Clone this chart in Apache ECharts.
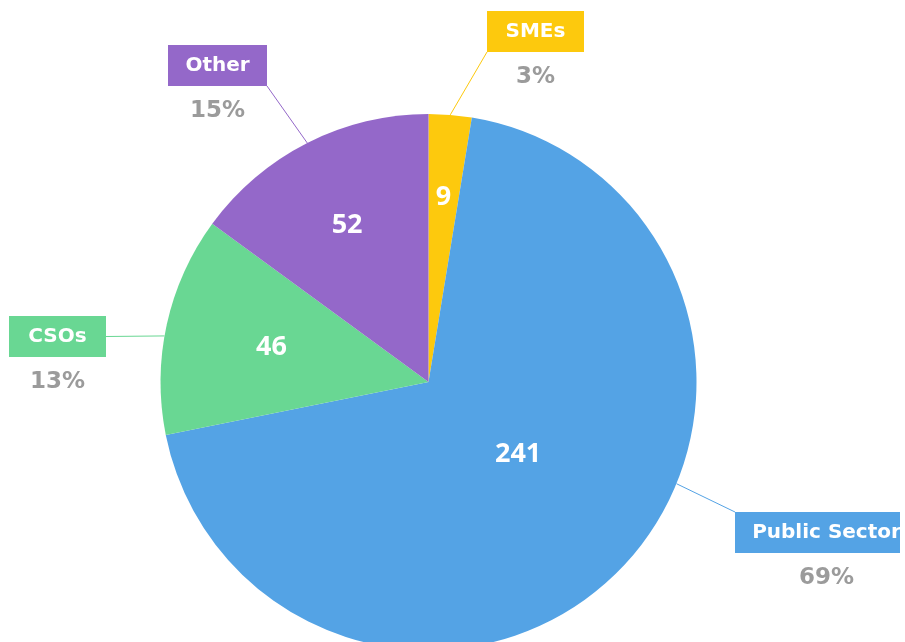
<!DOCTYPE html>
<html>
<head>
<meta charset="utf-8">
<script src="https://cdn.jsdelivr.net/npm/echarts@6/dist/echarts.min.js"></script>
<style>
  html, body { margin: 0; padding: 0; background: #ffffff; }
  #chart { width: 900px; height: 642px; }
</style>
</head>
<body>
<div id="chart"></div>
<script>
// Organisations by type
const categories = ['SMEs', 'Public Sector', 'CSOs', 'Other'];
const counts = [9, 241, 46, 52];
const sliceColors = ['#FDC90D', '#54A3E5', '#69D793', '#9468C9'];

// pie geometry
const CX = 428.5, CY = 382, R = 268;
const FONT = '"DejaVu Sans", sans-serif';
const VALUE_FONT = '"Open Sans", "DejaVu Sans", sans-serif';
const BOX_H = 41, BOX_PAD = 17, BOX_MIN_TEXT = 63;

// name boxes: top-left corner, where the leader line meets the box,
// and the rim angle (deg) the line leaves the pie from (null = slice middle)
const nameBoxes = [
  { x: 487, y: 11,  attach: 'bottomLeft',  rimAngle: null },
  { x: 735, y: 512, attach: 'topLeft',     rimAngle: -22.3 },
  { x: 9,   y: 316, attach: 'rightMiddle', rimAngle: 170.1 },
  { x: 168, y: 45,  attach: 'bottomRight', rimAngle: null }
];
// value labels inside slices: [fraction of radius, angle shift from slice middle]
const valueSpots = [[0.69, 0], [0.43, 5], [0.60, 0], [0.66, 0.5]];

const total = counts.reduce((a, b) => a + b, 0);
const shares = counts.map(v => Math.round(v / total * 100));
const midAngles = [];
(function () {
  let acc = 0;
  counts.forEach(v => {
    midAngles.push(90 - (acc + v / 2) / total * 360);
    acc += v;
  });
})();

const measureCtx = document.createElement('canvas').getContext('2d');
measureCtx.font = 'bold 20px ' + FONT;
const textWidths = categories.map(n => Math.max(BOX_MIN_TEXT, Math.ceil(measureCtx.measureText(n).width)));

const rich = {
  pct: { color: '#9b9b9b', fontSize: 23, fontWeight: 'bold', fontFamily: FONT, lineHeight: 51, align: 'center' }
};
categories.forEach((n, i) => {
  rich['n' + i] = {
    color: '#ffffff', backgroundColor: sliceColors[i], fontSize: 20, fontWeight: 'bold',
    fontFamily: FONT, height: BOX_H - 18, lineHeight: BOX_H, padding: [9, BOX_PAD, 9, BOX_PAD],
    width: textWidths[i], align: 'center'
  };
});

const pieData = categories.map((n, i) => ({ name: n, value: counts[i], itemStyle: { color: sliceColors[i] } }));

function attachPoint(b, i) {
  const w = textWidths[i] + 2 * BOX_PAD;
  switch (b.attach) {
    case 'bottomLeft': return [b.x, b.y + BOX_H];
    case 'bottomRight': return [b.x + w, b.y + BOX_H];
    case 'rightMiddle': return [b.x + w, b.y + BOX_H / 2];
    default: return [b.x, b.y];
  }
}

const leaderLines = nameBoxes.map((b, i) => {
  const a = (b.rimAngle == null ? midAngles[i] : b.rimAngle) * Math.PI / 180;
  const start = [CX + R * Math.cos(a), CY - R * Math.sin(a)];
  return {
    type: 'polyline', silent: true, z: 1,
    shape: { points: [start, attachPoint(b, i)] },
    style: { stroke: sliceColors[i], lineWidth: 1, fill: null }
  };
});

const chart = echarts.init(document.getElementById('chart'), null, { renderer: 'canvas' });
chart.setOption({
  animation: false,
  backgroundColor: '#ffffff',
  graphic: leaderLines,
  series: [
    {
      type: 'pie',
      center: [CX, CY],
      radius: R,
      startAngle: 90,
      clockwise: true,
      silent: true,
      emphasis: { disabled: true },
      data: pieData,
      label: {
        show: true,
        position: 'inside',
        formatter: '{c}',
        color: '#ffffff',
        fontSize: 27,
        fontWeight: 'bold',
        fontFamily: VALUE_FONT
      },
      labelLine: { show: false },
      labelLayout: p => {
        const s = valueSpots[p.dataIndex];
        const a = (midAngles[p.dataIndex] + s[1]) * Math.PI / 180;
        return {
          x: CX + s[0] * R * Math.cos(a),
          y: CY - s[0] * R * Math.sin(a),
          align: 'center',
          verticalAlign: 'middle'
        };
      }
    },
    {
      type: 'pie',
      center: [CX, CY],
      radius: R,
      startAngle: 90,
      clockwise: true,
      silent: true,
      emphasis: { disabled: true },
      itemStyle: { color: 'rgba(0,0,0,0)' },
      data: categories.map((n, i) => ({ name: n, value: counts[i] })),
      label: {
        show: true,
        position: 'outside',
        formatter: p => '{n' + p.dataIndex + '|' + p.name + '}\n{pct|' + shares[p.dataIndex] + '%}',
        rich: rich
      },
      labelLine: { show: false },
      labelLayout: p => ({
        x: nameBoxes[p.dataIndex].x,
        y: nameBoxes[p.dataIndex].y,
        align: 'left',
        verticalAlign: 'top'
      })
    }
  ]
});
</script>
</body>
</html>
